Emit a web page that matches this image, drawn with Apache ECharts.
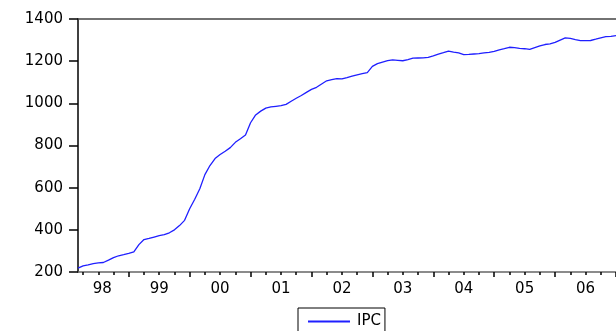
<!DOCTYPE html>
<html>
<head>
<meta charset="utf-8">
<script src="https://cdn.jsdelivr.net/npm/echarts@6/dist/echarts.min.js"></script>
<style>html,body{margin:0;padding:0;background:#fff}#c{width:616px;height:331px}</style>
</head>
<body>
<div id="c"></div>
<script>
// month index: 0 = Jan 1998
var months = [];
for (var i = 2; i <= 108; i++) months.push(i);
var ipc = [
  218, 229, 234, 240, 243, 245, 256, 268, 277, 282,           // 1998 Mar-Dec
  288, 295, 330, 354, 359, 366, 373, 377, 386, 400, 420, 445, // 1999
  500, 545, 595, 662, 705, 738, 757, 773, 790, 815, 832, 850, // 2000
  908, 945, 963, 977, 983, 986, 989, 995, 1010, 1024, 1037, 1052, // 2001
  1066, 1076, 1092, 1107, 1112, 1117, 1116, 1122, 1129, 1135, 1141, 1146, // 2002
  1175, 1188, 1196, 1203, 1206, 1204, 1202, 1207, 1214, 1215, 1216, 1218, // 2003
  1225, 1233, 1240, 1248, 1243, 1239, 1231, 1232, 1234, 1236, 1239, 1242, // 2004
  1246, 1253, 1259, 1266, 1264, 1261, 1259, 1256, 1264, 1272, 1279, 1282, // 2005
  1289, 1300, 1310, 1308, 1302, 1297, 1297, 1298, 1304, 1311, 1316, 1318, // 2006
  1321
];
var yearLabels = ['98','99','00','01','02','03','04','05','06'];
var yearLabelPos = [6.8, 18, 30, 42, 54, 66, 78, 90, 102];
var yearTicks = [12, 24, 36, 48, 60, 72, 84, 96, 108];
var quarterTicks = [3, 6, 9, 15, 18, 21, 27, 30, 33, 39, 42, 45, 51, 54, 57, 63, 66, 69, 75, 78, 81, 87, 90, 93, 99, 102, 105];
var yTicks = [200, 400, 600, 800, 1000, 1200, 1400];

var data = months.map(function (m, i) { return [m, ipc[i]]; });
var font = 'DejaVu Sans';
var chart = echarts.init(document.getElementById('c'), null, {renderer: 'canvas'});
chart.setOption({
  animation: false,
  backgroundColor: '#fff',
  grid: {left: 78, top: 19, right: 0, bottom: 59, containLabel: false},
  legend: {
    data: ['IPC'], left: 298, top: 308,
    itemWidth: 42, itemHeight: 2, icon: 'rect', itemGap: 0,
    borderColor: '#000', borderWidth: 1, borderRadius: 0,
    padding: [6, 4, 6, 10],
    textStyle: {fontFamily: font, fontSize: 15, color: '#000', padding: [0, 0, 0, 2]}
  },
  xAxis: [{
    type: 'value', min: 2, max: 108, position: 'bottom',
    splitLine: {show: false},
    axisLine: {show: true, lineStyle: {color: '#666', width: 1.5}},
    axisTick: {show: true, customValues: yearTicks, length: 5, lineStyle: {color: '#000', width: 1.5}},
    axisLabel: {show: true, customValues: yearLabelPos, margin: 10,
      fontFamily: font, fontSize: 15, color: '#000',
      formatter: function (v) { var k = yearLabelPos.indexOf(v); return k >= 0 ? yearLabels[k] : ''; }}
  }, {
    type: 'value', min: 2, max: 108, position: 'bottom', gridIndex: 0,
    splitLine: {show: false},
    axisLine: {show: false},
    axisTick: {show: true, customValues: quarterTicks, length: 3, lineStyle: {color: '#000', width: 1.5}},
    axisLabel: {show: false}
  }, {
    type: 'value', min: 2, max: 108, position: 'top', gridIndex: 0,
    splitLine: {show: false},
    axisLine: {show: true, lineStyle: {color: '#444', width: 1.5}},
    axisTick: {show: false}, axisLabel: {show: false}
  }],
  yAxis: {
    type: 'value', min: 200, max: 1400, interval: 200,
    splitLine: {show: false},
    axisLine: {show: true, lineStyle: {color: '#000', width: 1.5}},
    axisTick: {show: true, length: 9, lineStyle: {color: '#000', width: 1.5}},
    axisLabel: {margin: 15, fontFamily: font, fontSize: 15, color: '#000',
      formatter: function (v) { return yTicks.indexOf(v) >= 0 ? String(v) : ''; }}
  },
  series: [{
    name: 'IPC', type: 'line', xAxisIndex: 0, data: data,
    showSymbol: false, symbol: 'none',
    lineStyle: {color: '#1f1fff', width: 1.3},
    itemStyle: {color: '#1f1fff'}
  }]
});
</script>
</body>
</html>
